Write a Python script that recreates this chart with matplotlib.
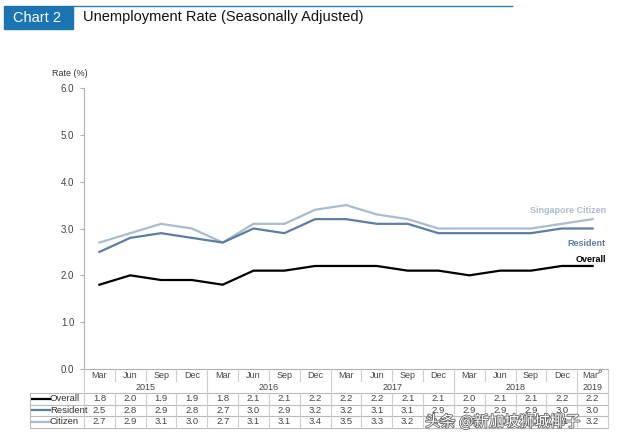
import matplotlib
matplotlib.use('Agg')
import matplotlib.pyplot as plt
import matplotlib.transforms as mtransforms
import matplotlib.patheffects as pe
from matplotlib.patches import Rectangle
from matplotlib.lines import Line2D

plt.rcParams['font.family'] = ['Liberation Sans', 'DejaVu Sans']

months = ['Mar', 'Jun', 'Sep', 'Dec'] * 4 + ['Mar$^P$']
years = ['2015', '2016', '2017', '2018', '2019']
overall = [1.8, 2.0, 1.9, 1.9, 1.8, 2.1, 2.1, 2.2, 2.2, 2.2, 2.1, 2.1, 2.0, 2.1, 2.1, 2.2, 2.2]
resident = [2.5, 2.8, 2.9, 2.8, 2.7, 3.0, 2.9, 3.2, 3.2, 3.1, 3.1, 2.9, 2.9, 2.9, 2.9, 3.0, 3.0]
citizen = [2.7, 2.9, 3.1, 3.0, 2.7, 3.1, 3.1, 3.4, 3.5, 3.3, 3.2, 3.0, 3.0, 3.0, 3.0, 3.1, 3.2]

c_overall = '#000000'
c_resident = '#5b7ea6'
c_citizen = '#a9bccf'
grid_c = '#b0b0b0'
W, H = 640, 445


def fx(px):
    return px / W


def fy(py):
    return 1 - py / H


fig = plt.figure(figsize=(6.4, 4.45), dpi=100)
fig.patch.set_facecolor('white')

# header
fig.patches.append(Rectangle((fx(4), fy(29)), fx(73) - fx(4), fy(6) - fy(29),
                             transform=fig.transFigure, color='#1b75b2'))
fig.lines.append(Line2D([fx(73), fx(512)], [fy(6), fy(6)], transform=fig.transFigure,
                        color='#2f7fa8', lw=1))
fig.text(fx(13), fy(17.5), 'Chart 2', color='white', fontsize=10.5, va='center')
fig.text(fx(83), fy(17.5), 'Unemployment Rate (Seasonally Adjusted)', color='#111111',
         fontsize=10.5, va='center')

ax = fig.add_axes([fx(84), fy(369), fx(608) - fx(84), fy(88) - fy(369)])
x = list(range(len(overall)))
ax.plot(x, citizen, color=c_citizen, lw=1.6)
ax.plot(x, resident, color=c_resident, lw=1.6)
ax.plot(x, overall, color=c_overall, lw=1.6)
ax.set_xlim(-0.5, len(x) - 0.5)
ax.set_ylim(0, 6)
ax.set_yticks([0, 1, 2, 3, 4, 5, 6])
ax.set_yticklabels(['%.1f' % v for v in range(7)])
ax.set_xticks([])
for s in ['top', 'right']:
    ax.spines[s].set_visible(False)
ax.spines['left'].set_color(grid_c)
ax.spines['bottom'].set_color(grid_c)
ax.tick_params(axis='y', length=3, color=grid_c, labelsize=7, labelcolor='#444444', pad=4)
fig.text(fx(52), fy(73), 'Rate (%)', fontsize=6.5, color='#333333', va='center')

# series labels
lab_x = fx(606)
fig.text(lab_x, fy(210), 'Singapore Citizen', color=c_citizen, fontsize=6.5,
         fontweight='bold', ha='right', va='center')
fig.text(lab_x, fy(244), 'Resident', color=c_resident, fontsize=6.5,
         fontweight='bold', ha='right', va='center')
fig.text(lab_x, fy(260), 'Overall', color=c_overall, fontsize=6.5,
         fontweight='bold', ha='right', va='center')

# category table under the axis
tr = mtransforms.blended_transform_factory(ax.transData, fig.transFigure)
for i, m in enumerate(months):
    fig.text(i, fy(375), m, transform=tr, fontsize=6.5, color='#444444', ha='center', va='center')
for k, yr in enumerate(years):
    n = 4 if k < 4 else 1
    fig.text(4 * k + (n - 1) / 2, fy(388), yr, transform=tr, fontsize=6.5, color='#444444',
             ha='center', va='center')
for i in range(len(x) + 1):
    b = i - 0.5
    if i % 4 == 0 or i == len(x):
        y_end = fy(393)
    else:
        y_end = fy(381)
    fig.lines.append(Line2D([b, b], [fy(369), y_end], transform=tr, color='#cccccc', lw=0.8))

# data rows
rows = [('Overall', overall, c_overall), ('Resident', resident, c_resident),
        ('Citizen', citizen, c_citizen)]
row_tops = [393, 404.5, 416, 427.5]
for r, (name, vals, col) in enumerate(rows):
    yc = fy((row_tops[r] + row_tops[r + 1]) / 2)
    fig.lines.append(Line2D([fx(32), fx(50)], [yc, yc], transform=fig.transFigure,
                            color=col, lw=1.6))
    fig.text(fx(50), yc, name, fontsize=6.8, color='#333333', va='center')
    for i, v in enumerate(vals):
        fig.text(i, yc, '%.1f' % v, transform=tr, fontsize=6.8, color='#444444',
                 ha='center', va='center')
for yy in row_tops:
    fig.lines.append(Line2D([fx(30), fx(608)], [fy(yy), fy(yy)], transform=fig.transFigure,
                            color='#bbbbbb', lw=0.8))
fig.lines.append(Line2D([fx(30), fx(30)], [fy(393), fy(427.5)], transform=fig.transFigure,
                        color='#bbbbbb', lw=0.8))
for i in range(len(x) + 1):
    b = i - 0.5
    fig.lines.append(Line2D([b, b], [fy(393), fy(427.5)], transform=tr, color='#cccccc', lw=0.8))

# watermark (sits over the table in the source image)
fig.text(fx(425), fy(422), '头条 @新加坡狮城椰子', fontsize=11, color='white',
         family=['Noto Sans CJK SC', 'DejaVu Sans'], va='center',
         path_effects=[pe.withStroke(linewidth=1.2, foreground='#666666')])

fig.savefig('out.png', dpi=100, facecolor='white')
